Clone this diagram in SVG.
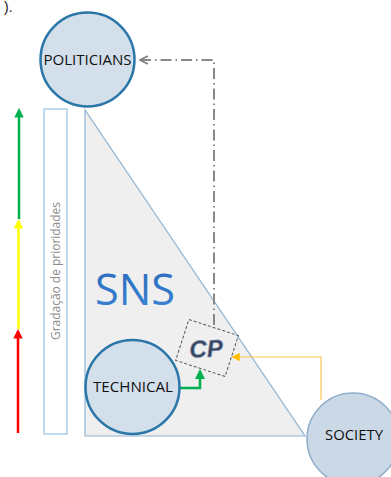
<svg xmlns="http://www.w3.org/2000/svg" width="391" height="477" viewBox="0 0 391 477">
<style>
.node{fill:#d3dfea;stroke:#2a76a8;stroke-width:2.5}
.soc{fill:#cbd9e7;stroke:#8eaccb;stroke-width:1.5}
.lbl{font-family:"Open Sans","Liberation Sans",Arial,sans-serif;font-size:14px;fill:#111;text-anchor:middle}
</style>
<defs>
<linearGradient id="sns" x1="0" y1="0" x2="0" y2="1">
<stop offset="0" stop-color="#2a68b8"/>
<stop offset="1" stop-color="#3a86d8"/>
</linearGradient>
<marker id="ag" viewBox="0 0 10 10" refX="8" refY="5" markerWidth="3.8" markerHeight="3.8" orient="auto"><path d="M0,0L10,5L0,10z" fill="#00b050"/></marker>
<marker id="ay" viewBox="0 0 10 10" refX="8" refY="5" markerWidth="3.8" markerHeight="3.8" orient="auto"><path d="M0,0L10,5L0,10z" fill="#ffff00"/></marker>
<marker id="ar" viewBox="0 0 10 10" refX="8" refY="5" markerWidth="3.8" markerHeight="3.8" orient="auto"><path d="M0,0L10,5L0,10z" fill="#ff0000"/></marker>
<marker id="agr" viewBox="0 0 10 10" refX="8" refY="5" markerWidth="4" markerHeight="4" orient="auto"><path d="M0,0L10,5L0,10z" fill="#00b050"/></marker>
<marker id="aor" viewBox="0 0 10 10" refX="8" refY="5" markerWidth="7" markerHeight="7" orient="auto"><path d="M0,0L10,5L0,10z" fill="#ffc000"/></marker>
<marker id="agy" viewBox="0 0 10 10" refX="9" refY="5" markerWidth="5" markerHeight="5" orient="auto"><path d="M1,1L9,5L1,9" fill="none" stroke="#7f7f7f" stroke-width="1.6"/></marker>
</defs>
<rect width="391" height="477" fill="#fff"/>
<text x="4" y="12" font-family="Liberation Sans,sans-serif" font-size="14" fill="#111">).</text>

<g id="priority-scale">
<rect x="44" y="109" width="23" height="325" fill="#fff" stroke="#9cc3e5" stroke-width="1.2"/>
<text transform="translate(60,271) rotate(-90)" font-family="Open Sans,Liberation Sans,Arial,sans-serif" font-size="12" fill="#8c8c8c" text-anchor="middle" textLength="138" lengthAdjust="spacingAndGlyphs">Gradação de prioridades</text>
</g>
<g id="sns-triangle">
<path d="M85,110 L85,436 L305,436 Z" fill="#efefef" stroke="#8fb4d2" stroke-width="1.2"/>
<text x="95" y="305" font-family="Open Sans,Liberation Sans,sans-serif" font-size="44" fill="url(#sns)" textLength="80" lengthAdjust="spacingAndGlyphs">SNS</text>
</g>

<g id="connectors">
<line x1="18" y1="433" x2="18" y2="331" stroke="#ff0000" stroke-width="2.5" marker-end="url(#ar)"/>
<line x1="18.5" y1="329" x2="18.5" y2="221" stroke="#ffff00" stroke-width="2.5" marker-end="url(#ay)"/>
<line x1="19" y1="219" x2="19" y2="110" stroke="#00b050" stroke-width="2.5" marker-end="url(#ag)"/>
<path d="M214,325 L214,60 L140,60" fill="none" stroke="#888" stroke-width="2" stroke-dasharray="11,4,1.5,4" marker-end="url(#agy)"/>
<path d="M180,388 L200,388 L200,371" fill="none" stroke="#00b050" stroke-width="2.5" marker-end="url(#agr)"/>
<path d="M321,400 L321,357 L233,357" fill="none" stroke="#f9c74f" stroke-width="1.2" marker-end="url(#aor)"/>
</g>

<g id="cp">
<rect x="181" y="326.5" width="52" height="43" transform="rotate(18 207 348)" fill="none" stroke="#555" stroke-width="1" stroke-dasharray="3,2"/>
<text x="206" y="357" transform="rotate(-3 206 348)" font-family="Liberation Sans,Arial,sans-serif" font-size="24" font-weight="bold" font-style="italic" fill="#34445f" stroke="#8595b3" stroke-width="0.7" text-anchor="middle">CP</text>
</g>

<g id="politicians">
<circle class="node" cx="87.5" cy="59.5" r="47"/>
<text class="lbl" x="87.5" y="64.5" textLength="88" lengthAdjust="spacingAndGlyphs">POLITICIANS</text>
</g>
<g id="technical">
<circle class="node" cx="132.5" cy="387" r="47"/>
<text class="lbl" x="133" y="392" textLength="80" lengthAdjust="spacingAndGlyphs">TECHNICAL</text>
</g>
<g id="society">
<circle class="soc" cx="353" cy="439" r="46"/>
<text class="lbl" x="354" y="440" textLength="58" lengthAdjust="spacingAndGlyphs">SOCIETY</text>
</g>
</svg>
